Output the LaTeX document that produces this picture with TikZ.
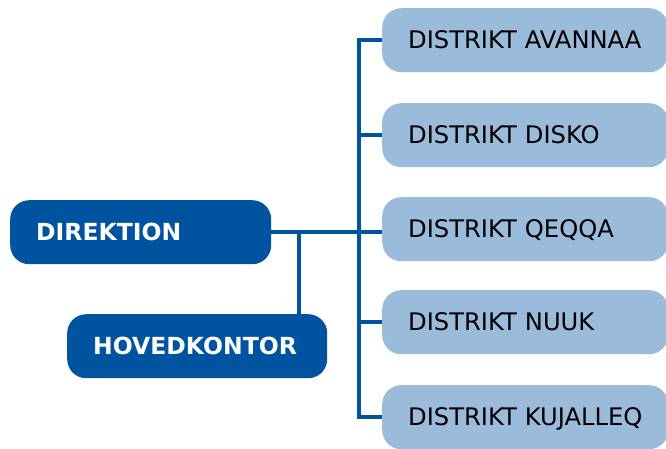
\documentclass[tikz,border=0pt]{standalone}
\usepackage{fontspec}
\setmainfont{DejaVu Sans}
\definecolor{darkblue}{HTML}{00539F}
\definecolor{lightblue}{HTML}{9BBBDB}
\begin{document}
\begin{tikzpicture}[x=1pt,y=-1pt,
  basebox/.style={rectangle, rounded corners=19pt, anchor=north west, inner ysep=0pt, inner xsep=26pt, align=left, minimum height=64pt, text height=17.5pt, text depth=0pt, font=\fontsize{24.2}{28}\selectfont},
  dbox/.style={basebox, fill=darkblue, text=white, font=\fontsize{23.5}{28}\selectfont\bfseries, text height=17pt},
  lbox/.style={basebox, fill=lightblue, text=black, text width=234pt},
  conn/.style={draw=darkblue, line width=3.5pt}]
\useasboundingbox (0,0) rectangle (666,448);
\node[dbox, text width=209pt, inner xsep=26pt] (dir) at (10,200) {\mbox{DIREKTION}};
\node[dbox, text width=208pt, inner xsep=26pt] (hov) at (67,314) {\mbox{HOVEDKONTOR}};
\node[lbox] (d1) at (382,8) {\mbox{DISTRIKT AVANNAA}};
\node[lbox] (d2) at (382,103) {\mbox{DISTRIKT DISKO}};
\node[lbox] (d3) at (382,197) {\mbox{DISTRIKT QEQQA}};
\node[lbox] (d4) at (382,290) {\mbox{DISTRIKT NUUK}};
\node[lbox] (d5) at (382,385) {\mbox{DISTRIKT KUJALLEQ}};
\coordinate (t) at (359,0);
\coordinate (h) at (299,0);
\draw[conn] (dir.east) -- (dir.east -| d3.west);
\draw[conn] (dir.east -| h) -- (hov.north -| h);
\draw[conn] (d1.west) -- (d1.west -| t) -- (d5.west -| t) -- (d5.west);
\draw[conn] (d2.west) -- (d2.west -| t);
\draw[conn] (d4.west) -- (d4.west -| t);
\end{tikzpicture}
\end{document}
